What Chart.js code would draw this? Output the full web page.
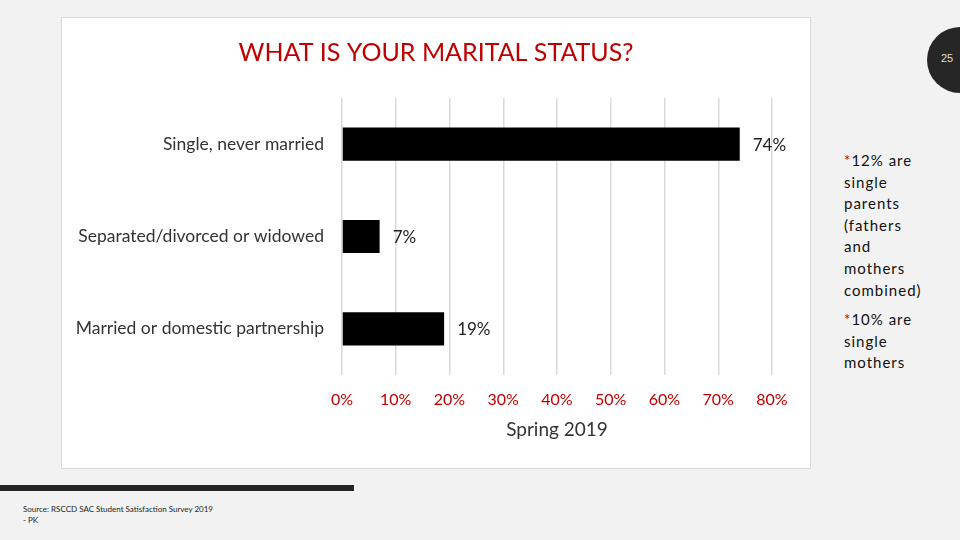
<!DOCTYPE html>
<html>
<head>
<meta charset="utf-8">
<script src="https://cdn.jsdelivr.net/npm/chart.js"></script>
<style>
  html,body{margin:0;padding:0;}
  body{width:960px;height:540px;background:#f2f2f2;position:relative;overflow:hidden;font-family:Lato,"Open Sans",sans-serif;}
  #panel{position:absolute;left:61px;top:17px;width:748px;height:450px;background:#fff;border:1.5px solid #d9d9d9;}
  #wrap{position:absolute;left:0;top:0;width:748px;height:450px;}
  #note{position:absolute;left:844px;top:150px;font-size:15px;line-height:21.6px;letter-spacing:1px;color:#111;}
  #note p{margin:0 0 8px 0;}
  #note .star{color:#c00000;}
  #pagenum{position:absolute;left:927px;top:27px;width:66px;height:66px;border-radius:50%;background:#262626;}
  #pagenum span{position:absolute;left:14px;top:25px;font-size:11px;color:#ddd;font-family:"Liberation Sans",sans-serif;}
  #rule{position:absolute;left:0;top:485px;width:354px;height:6px;background:#262626;}
  #source{position:absolute;left:23px;top:504px;font-size:8px;line-height:11px;color:#222;}
</style>
</head>
<body>
<div id="panel"><div id="wrap"><canvas id="chart"></canvas></div></div>
<div id="note">
  <p><span class="star">*</span>12% are<br>single<br>parents<br>(fathers<br>and<br>mothers<br>combined)</p>
  <p><span class="star">*</span>10% are<br>single<br>mothers</p>
</div>
<div id="pagenum"><span>25</span></div>
<div id="rule"></div>
<div id="source">Source: RSCCD SAC Student Satisfaction Survey 2019<br>- PK</div>
<script>
// DATA
const categories = ["Single, never married", "Separated/divorced or widowed", "Married or domestic partnership"];
const values = [74, 7, 19];
const axisMin = 0;
const axisMax = 80;
const axisStep = 10;
const axisTitle = "Spring 2019";
const chartTitle = "WHAT IS YOUR MARITAL STATUS?";

const red = "#c00000";

// LABELS AT BAR END
const barLabels = {
  id: "barLabels",
  afterDatasetsDraw(c){
    const ctx = c.ctx;
    ctx.save();
    ctx.font = "17px Lato";
    ctx.fillStyle = "#222";
    ctx.textBaseline = "middle";
    ctx.textAlign = "left";
    c.getDatasetMeta(0).data.forEach((bar,i)=>{
      ctx.fillText(values[i] + "%", bar.x + 13, bar.y + 1);
    });
    ctx.restore();
  }
};

// TITLE (centred on the whole panel, not the plot)
const panelTitle = {
  id: "panelTitle",
  afterDraw(c){
    const ctx = c.ctx;
    ctx.save();
    ctx.font = "25px Lato";
    ctx.fillStyle = red;
    ctx.textAlign = "center";
    ctx.textBaseline = "middle";
    ctx.fillText(chartTitle, c.width / 2, 35);
    ctx.restore();
  }
};

new Chart(document.getElementById("chart"), {
  type: "bar",
  data: {
    labels: categories,
    datasets: [{
      data: values,
      backgroundColor: "#000",
      categoryPercentage: 1,
      barPercentage: 0.36
    }]
  },
  options: {
    indexAxis: "y",
    responsive: true,
    maintainAspectRatio: false,
    animation: false,
    layout: {padding: {left: 0, right: 38, top: 80, bottom: 27}},
    plugins: {
      legend: {display: false},
      tooltip: {enabled: false},
      title: {display: false}
    },
    scales: {
      x: {
        min: axisMin,
        max: axisMax,
        afterFit(scale){ scale.height = 66; },
        ticks: {
          stepSize: axisStep,
          color: red,
          padding: 15,
          font: {family: "Lato", size: 16},
          callback: v => v + "%"
        },
        grid: {color: "#d9d9d9", lineWidth: 1.5, drawTicks: false},
        border: {display: false},
        title: {
          display: true,
          text: axisTitle,
          color: "#333",
          font: {family: "Lato", size: 19},
          padding: {top: 10, bottom: 0}
        }
      },
      y: {
        afterFit(scale){ scale.width = 280; },
        ticks: {
          color: "#333",
          padding: 10,
          font: {family: "Lato", size: 17.5}
        },
        grid: {display: false},
        border: {display: false}
      }
    }
  },
  plugins: [barLabels, panelTitle]
});
</script>
</body>
</html>
